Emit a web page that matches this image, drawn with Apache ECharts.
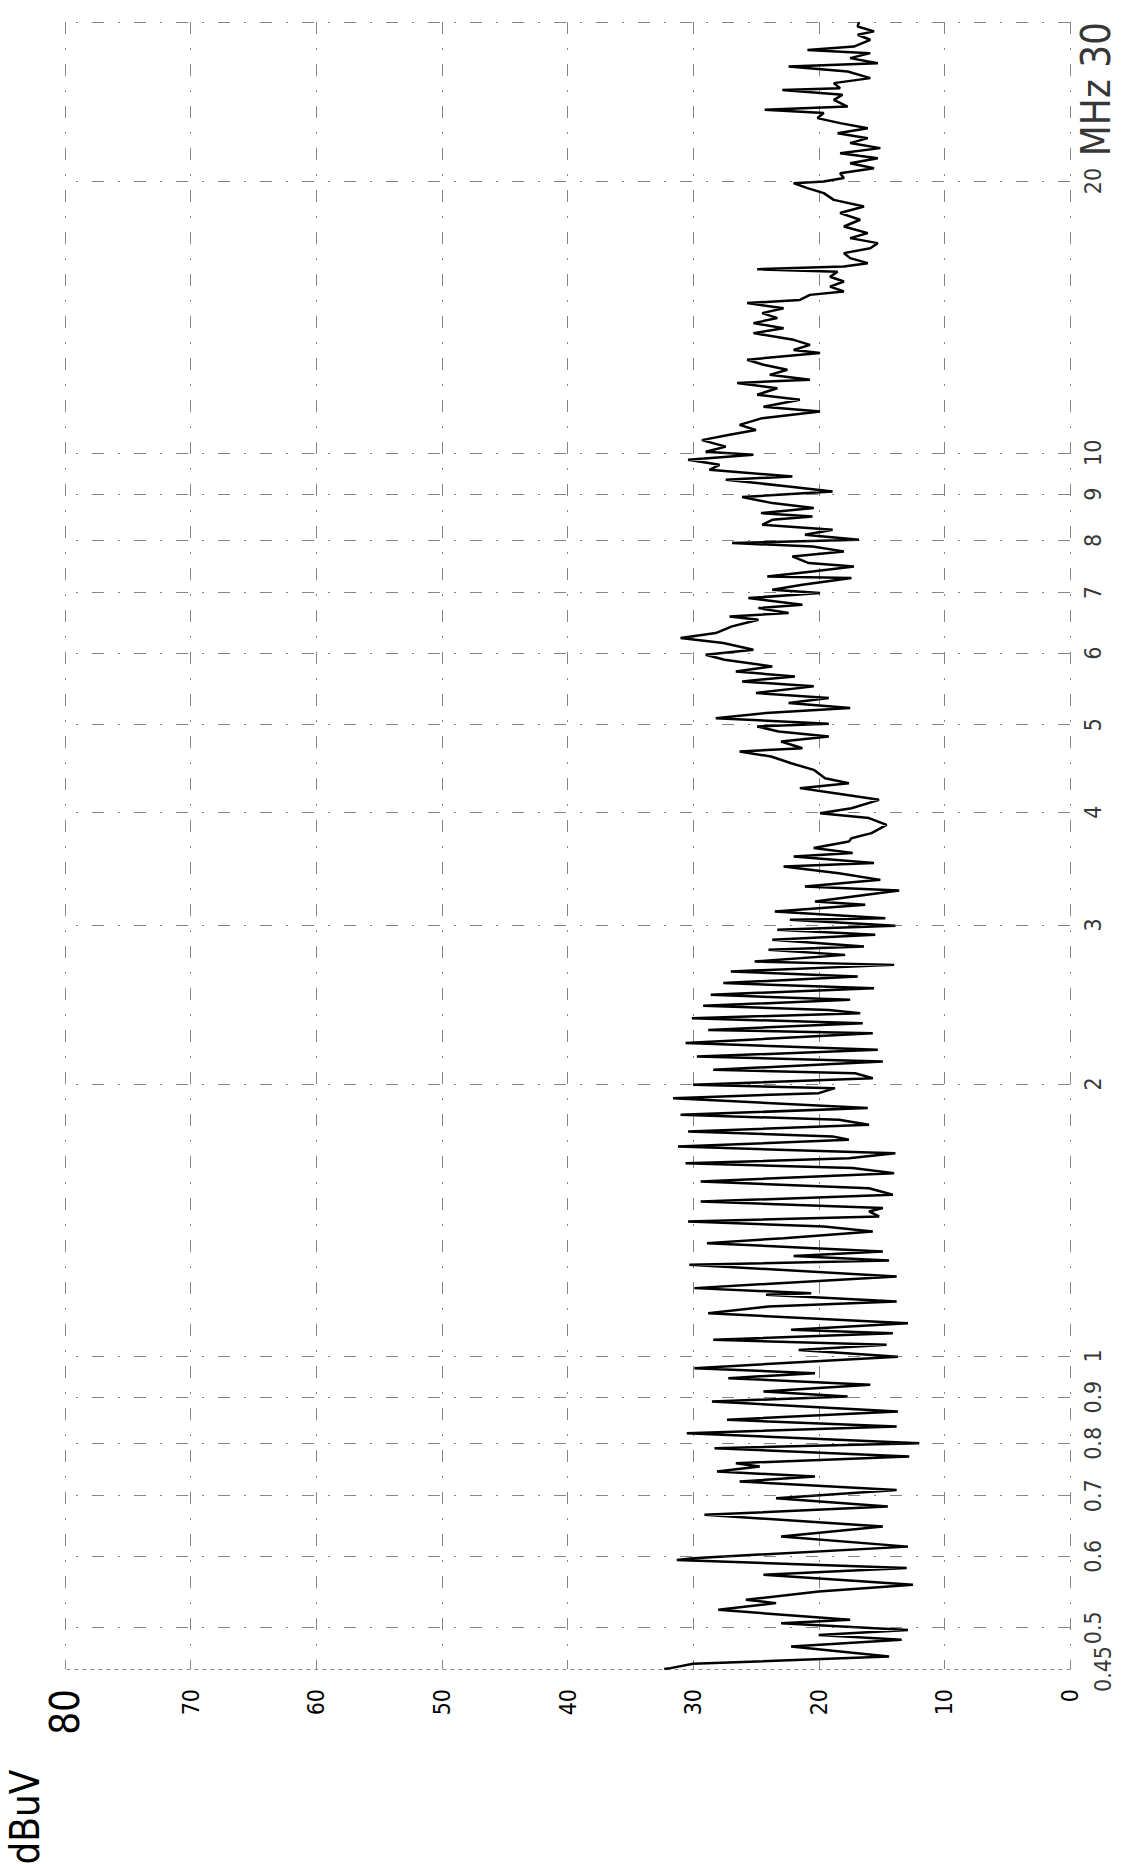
<!DOCTYPE html>
<html><head><meta charset="utf-8">
<script src="https://cdn.jsdelivr.net/npm/echarts@6/dist/echarts.min.js"></script>
<style>html,body{margin:0;padding:0;background:#fff}#c{width:1126px;height:1864px}</style>
</head><body><div id="c"></div>
<script>
// Frequency (MHz) of each traced point, ascending
const freqMHz = [
0.45,0.451,0.456,0.4645,0.4766,0.4848,0.4909,0.4972,0.5058,0.5101,0.5233,0.5323,0.5369,0.5483,0.5577,0.5722,0.5821,0.5943,0.597,
0.6148,0.6308,0.6471,0.6667,0.6809,0.6956,0.7105,0.7258,0.7352,0.7446,0.7542,0.7606,0.7738,0.7903,0.8003,0.8211,0.8351,0.8495,
0.8677,0.8902,0.9013,0.913,0.9288,0.9447,0.9568,0.969,0.998,1.0153,1.0285,1.0416,1.0595,1.0686,1.0869,1.1149,1.1339,1.1484,
1.1684,1.1732,1.1885,1.2244,1.2614,1.275,1.29,1.305,1.333,1.35,1.373,1.391,1.409,1.427,1.445,1.458,1.482,1.508,1.533,1.56,
1.593,1.614,1.634,1.655,1.676,1.705,1.735,1.75,1.772,1.803,1.826,1.849,1.881,1.929,1.954,1.979,1.996,2.03,2.056,2.074,2.118,
2.145,2.182,2.22,2.277,2.296,2.335,2.365,2.396,2.416,2.441,2.479,2.511,2.554,2.587,2.631,2.665,2.71,2.733,2.78,2.816,2.84,
2.889,2.926,2.963,2.994,3.04,3.053,3.105,3.159,3.186,3.276,3.31,3.366,3.424,3.483,3.513,3.573,3.604,3.65,3.712,
3.743,3.792,3.873,3.94,3.99,4.041,4.128,4.199,4.253,4.307,4.362,4.456,4.532,4.61,4.669,4.709,4.79,4.851,4.914,4.977,5.011,
5.084,5.15,5.216,5.283,5.351,5.42,5.513,5.583,5.655,5.727,5.801,5.9,5.976,6.053,6.157,6.236,6.316,6.424,6.534,6.59,6.646,
6.731,6.789,6.905,6.994,7.053,7.144,7.266,7.297,7.391,7.486,7.55,7.679,7.778,7.877,7.944,8.012,8.115,8.219,8.324,8.431,8.503,
8.576,8.686,8.797,8.933,9.063,9.179,9.336,9.416,9.577,9.7,9.823,9.949,10.03,10.16,10.33,10.47,10.6,10.74,
10.925,11.11,11.25,11.45,11.6,11.79,11.95,12.05,12.2,12.36,12.52,12.68,12.9,13.0,13.17,13.34,13.57,13.74,13.92,14.1,14.28,
14.46,14.65,14.77,14.96,15.09,15.28,15.48,15.67,15.87,15.97,16.08,16.22,16.43,16.64,16.85,17.07,17.29,17.51,17.81,18.12,18.43,
18.74,19.06,19.39,19.64,19.89,19.98,20.15,20.4,20.66,20.93,21.2,21.47,21.75,22.03,22.31,22.59,22.88,23.18,23.48,23.78,23.98,
24.18,24.6,24.92,25.23,25.34,25.67,26.0,26.44,26.78,27.01,27.36,27.71,27.94,28.18,28.67,29.04,29.29,29.66,30
];
// Level (dBuV) at each of those frequencies
const levelDbuV = [
32.3,31.8,30.0,14.4,22.2,13.4,20.0,12.9,23.0,17.5,28.0,23.4,25.8,20.0,12.5,24.4,13.0,31.3,30.0,
12.9,23.0,14.9,29.1,14.5,23.4,13.8,26.3,20.3,28.1,24.7,26.6,12.8,28.3,12.0,30.5,13.8,27.3,
13.7,28.5,17.7,24.4,15.9,27.2,20.3,29.9,13.7,21.6,14.6,28.4,14.1,22.2,12.9,28.8,24.0,13.8,
24.2,20.6,29.9,13.8,30.3,14.4,22.0,14.9,28.9,22.8,15.7,19.6,30.4,15.2,16.0,14.9,29.4,14.1,16.0,29.4,
14.0,17.3,30.6,17.6,13.9,31.2,17.6,18.9,30.4,16.0,18.4,31.0,16.1,31.6,20.0,18.7,30.0,15.7,17.1,28.4,14.9,
29.7,15.3,30.6,15.7,28.8,16.5,30.1,16.7,19.2,29.2,17.5,28.6,15.6,27.6,16.9,27.0,14.0,25.1,17.9,24.0,16.4,
23.7,15.5,23.3,13.9,22.3,14.7,23.5,16.3,20.3,13.6,21.1,15.1,18.4,22.8,15.6,22.0,17.3,20.4,17.6,
17.4,15.8,14.6,16.0,19.9,17.4,15.2,18.7,21.5,17.6,19.5,20.4,22.2,23.8,26.3,21.3,23.0,19.2,23.2,24.9,19.2,
28.2,24.2,17.5,22.4,19.2,25.0,20.4,26.1,21.9,26.6,23.7,27.5,29.0,25.2,27.6,31.0,28.2,26.9,24.8,27.1,22.4,
24.8,21.3,25.6,19.9,23.7,21.3,17.4,24.1,20.5,17.2,20.8,22.1,18.0,20.5,26.9,16.8,21.1,18.9,24.5,23.7,20.5,
24.6,20.4,23.7,26.1,18.9,22.4,27.4,22.1,28.7,27.9,30.4,25.2,29.0,27.4,29.3,27.1,25.0,26.3,
24.5,19.9,24.4,21.5,24.9,23.3,26.5,20.7,23.9,22.5,24.4,25.7,19.9,22.0,20.7,22.0,25.2,22.8,25.2,23.3,24.5,
22.8,25.7,21.5,20.7,18.0,19.1,18.0,19.1,18.5,24.9,18.0,16.1,17.5,18.0,15.9,15.3,17.5,16.1,18.0,16.7,18.3,
16.4,18.8,19.6,20.9,22.0,19.6,18.0,18.3,15.6,17.5,15.3,18.3,15.1,17.5,16.1,18.5,16.1,18.3,20.1,19.6,24.3,
17.7,18.8,18.1,22.9,18.3,18.8,15.9,17.7,22.4,15.3,17.5,15.9,20.9,17.2,15.9,16.9,15.6,16.9,16.8
];
const freqTicks = [0.45,0.5,0.6,0.7,0.8,0.9,1,2,3,4,5,6,7,8,9,10,20,30];
const freqTickLabels = ['0.45','0.5','0.6','0.7','0.8','0.9','1','2','3','4','5','6','7','8','9','10','20','MHz 30'];
const dbTicks = [0,10,20,30,40,50,60,70,80];
const yUnit = 'dBuV';

const FONT = "'Liberation Sans Narrow','DejaVu Sans Condensed','Roboto Condensed',sans-serif";
const gridStyle = {color:'#333', width:1, type:[12,14,2,14], opacity:0.6};

const chart = echarts.init(document.getElementById('c'), null, {renderer:'svg'});

const labelData = freqTicks.map((f, i) => {
  const item = {value:[0, f]};
  if (f === 30) item.label = {align:'right', fontSize:40, distance:37, offset:[0,-12]};
  if (f === 0.45) item.label = {distance:32};
  return item;
});

chart.setOption({
  animation:false,
  backgroundColor:'#fff',
  grid:{left:65, right:56, top:22, bottom:195},
  xAxis:{
    type:'value', min:dbTicks[0], max:dbTicks[dbTicks.length-1], interval:10, inverse:true, position:'bottom',
    axisLine:{show:true, lineStyle:{color:'#555', type:[3,5], opacity:0.7}},
    axisTick:{show:false},
    splitLine:{show:true, lineStyle:gridStyle},
    axisLabel:{rotate:90, margin:20, fontFamily:FONT, fontSize:23, color:'#000',
      formatter:v => v === 80 ? '{big|80}' : String(v),
      rich:{big:{fontSize:40, fontFamily:FONT, color:'#000'}}}
  },
  yAxis:{
    type:'log', logBase:10, min:freqTicks[0], max:freqTicks[freqTicks.length-1], position:'right',
    axisLine:{show:false}, axisTick:{show:false}, axisLabel:{show:false}, splitLine:{show:false}
  },
  series:[
    {
      type:'line', name:'level',
      data:freqMHz.map((f, i) => [levelDbuV[i], f]),
      symbol:'none', showSymbol:false,
      lineStyle:{color:'#000', width:2.5},
      markLine:{
        silent:true, symbol:['none','none'], label:{show:false},
        lineStyle:gridStyle, animation:false,
        data:freqTicks.filter(f => f > freqTicks[0]).map(f => ({yAxis:f}))
      }
    },
    {
      type:'scatter', name:'freqLabels', data:labelData,
      symbolSize:1, itemStyle:{color:'rgba(0,0,0,0)'}, silent:true,
      label:{show:true, position:'right', distance:22, rotate:90, align:'center', verticalAlign:'middle',
        fontFamily:FONT, fontSize:23, color:'#000',
        formatter:p => freqTickLabels[p.dataIndex]}
    }
  ],
  graphic:[{
    type:'text', x:25, y:1817, rotation:Math.PI/2,
    style:{text:yUnit, font:'40px ' + FONT, fill:'#000', align:'center', verticalAlign:'middle'}
  }]
});
</script></body></html>
